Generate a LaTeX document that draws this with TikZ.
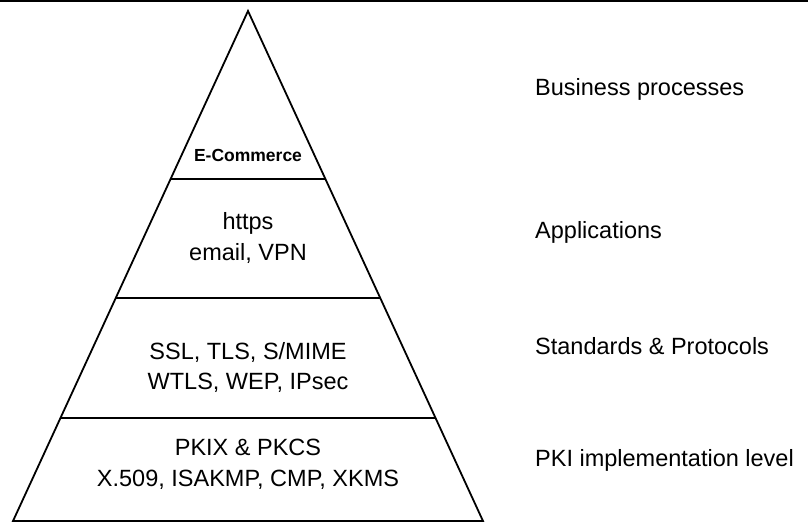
\documentclass[tikz,border=0pt]{standalone}
\usepackage{fontspec}
\setmainfont{Liberation Sans}
\usetikzlibrary{calc}
\begin{document}
\begin{tikzpicture}[x=1pt,y=-1pt,
  edge/.style={line width=1.8pt, line join=miter},
  divider/.style={line width=2.4pt},
  layertext/.style={anchor=base, inner sep=0pt, font=\fontsize{23.5}{28}\selectfont},
  sidetext/.style={anchor=base west, inner sep=0pt, font=\fontsize{23.5}{28}\selectfont},
  toptext/.style={anchor=base, inner sep=0pt, font=\fontsize{17.5}{20}\selectfont\bfseries}]
  \useasboundingbox (0,0) rectangle (808,523);
  % rule across the top
  \coordinate (ruleL) at (0,1);
  \coordinate (ruleR) at (808,1);
  \draw[line width=2pt] (ruleL) -- (ruleR);
  % pyramid outline
  \coordinate (apex) at (248,11);
  \coordinate (bl) at (13,521);
  \coordinate (br) at (483,521);
  \draw[edge] (apex) -- (bl) -- (br) -- cycle;
  % layer dividers
  \coordinate (d1l) at ($(apex)!0.3294!(bl)$);
  \coordinate (d1r) at ($(apex)!0.3294!(br)$);
  \coordinate (d2l) at ($(apex)!0.5627!(bl)$);
  \coordinate (d2r) at ($(apex)!0.5627!(br)$);
  \coordinate (d3l) at ($(apex)!0.798!(bl)$);
  \coordinate (d3r) at ($(apex)!0.798!(br)$);
  \draw[divider] (d1l) -- (d1r);
  \draw[divider] (d2l) -- (d2r);
  \draw[divider] (d3l) -- (d3r);
  % layer contents
  \node[toptext] (ecom) at (248,161) {E-Commerce};
  \node[layertext] (appA) at (248,229) {https};
  \node[layertext] (appB) at (248,260) {email, VPN};
  \node[layertext] (stdA) at (248,359) {SSL, TLS, S/MIME};
  \node[layertext] (stdB) at (248,389) {WTLS, WEP, IPsec};
  \node[layertext] (pkiA) at (248,455) {PKIX \& PKCS};
  \node[layertext] (pkiB) at (248,486) {X.509, ISAKMP, CMP, XKMS};
  % level names
  \node[sidetext] (lvl1) at (535,95) {Business processes};
  \node[sidetext] (lvl2) at (535,238) {Applications};
  \node[sidetext] (lvl3) at (535,354) {Standards \& Protocols};
  \node[sidetext] (lvl4) at (535,466) {PKI implementation level};
\end{tikzpicture}
\end{document}
